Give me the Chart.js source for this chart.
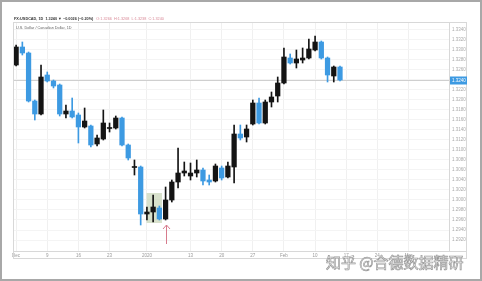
<!DOCTYPE html>
<html>
<head>
<meta charset="utf-8">
<script src="https://cdn.jsdelivr.net/npm/chart.js@4.4.0/dist/chart.umd.min.js"></script>
<style>
  html, body { margin: 0; padding: 0; background: #fff; }
  #wrap { position: relative; width: 482px; height: 281px; }
</style>
</head>
<body>
<div id="wrap"><canvas id="usdcad" width="482" height="281"></canvas></div>
<script>
// dias de trading (dic 2019 - feb 2020) + huecos a la derecha
const tradingDays = [
  'Dec 2','Dec 3','Dec 4','Dec 5','Dec 6','Dec 9','Dec 10','Dec 11','Dec 12','Dec 13',
  'Dec 16','Dec 17','Dec 18','Dec 19','Dec 20','Dec 23','Dec 24','Dec 26','Dec 27','Dec 30',
  'Dec 31','Jan 2','Jan 3','Jan 6','Jan 7','Jan 8','Jan 9','Jan 10','Jan 13','Jan 14',
  'Jan 15','Jan 16','Jan 17','Jan 20','Jan 21','Jan 22','Jan 23','Jan 24','Jan 27','Jan 28',
  'Jan 29','Jan 30','Jan 31','Feb 3','Feb 4','Feb 5','Feb 6','Feb 7','Feb 10','Feb 11',
  'Feb 12','Feb 13','Feb 14'
];
const emptySlots = 17;

const opens  = [1.3270,1.3306,1.3294,1.3198,1.3172,1.3250,1.3238,1.3230,1.3172,1.3178,
                1.3170,1.3146,1.3148,1.3112,1.3122,1.3143,1.3144,1.3164,1.3110,1.3065,
                1.3066,1.2972,1.2976,1.2984,1.2962,1.3000,1.3036,1.3054,1.3048,1.3054,
                1.3060,1.3040,1.3038,1.3064,1.3046,1.3066,1.3132,1.3126,1.3152,1.3194,
                1.3154,1.3196,1.3208,1.3234,1.3284,1.3274,1.3280,1.3284,1.3300,1.3316,
                1.3284,1.3248,1.3266];
const highs  = [1.3310,1.3316,1.3296,1.3200,1.3270,1.3256,1.3240,1.3232,1.3190,1.3204,
                1.3174,1.3184,1.3150,1.3130,1.3180,1.3154,1.3168,1.3166,1.3112,1.3080,
                1.3068,1.2986,1.3010,1.2988,1.3026,1.3040,1.3104,1.3076,1.3074,1.3080,
                1.3064,1.3050,1.3072,1.3068,1.3076,1.3150,1.3150,1.3150,1.3200,1.3204,
                1.3200,1.3216,1.3246,1.3304,1.3292,1.3300,1.3304,1.3322,1.3328,1.3318,
                1.3286,1.3268,1.3268];
const lows   = [1.3268,1.3290,1.3196,1.3160,1.3170,1.3236,1.3224,1.3168,1.3164,1.3164,
                1.3114,1.3144,1.3106,1.3108,1.3120,1.3136,1.3142,1.3108,1.3080,1.3050,
                1.2950,1.2960,1.2956,1.2960,1.2960,1.2996,1.3024,1.3048,1.3040,1.3046,
                1.3030,1.3030,1.3036,1.3040,1.3044,1.3034,1.3120,1.3116,1.3150,1.3152,
                1.3152,1.3186,1.3196,1.3232,1.3272,1.3264,1.3274,1.3282,1.3298,1.3282,
                1.3236,1.3236,1.3238];
const closes = [1.3306,1.3294,1.3198,1.3172,1.3246,1.3238,1.3228,1.3172,1.3178,1.3166,
                1.3146,1.3158,1.3110,1.3124,1.3154,1.3145,1.3164,1.3110,1.3084,1.3067,
                1.2972,1.2976,1.2986,1.2962,1.3000,1.3036,1.3054,1.3058,1.3054,1.3060,
                1.3038,1.3036,1.3068,1.3044,1.3068,1.3132,1.3124,1.3142,1.3194,1.3154,
                1.3196,1.3206,1.3234,1.3286,1.3274,1.3282,1.3284,1.3302,1.3316,1.3284,
                1.3250,1.3266,1.3240];

const priceTicks = [1.2920,1.2940,1.2960,1.2980,1.3000,1.3020,1.3040,1.3060,1.3080,1.3100,1.3120,
                    1.3140,1.3160,1.3180,1.3200,1.3220,1.3240,1.3260,1.3280,1.3300,1.3320,1.3340];
const timeTickIdx  = [0, 5, 10, 15, 21, 28, 33, 38, 43, 48, 53, 58, 63];
const timeTickText = ['Dec','9','16','23','2020','13','20','27','Feb','10','17','24','Mar'];

const headerMain = 'FX:USDCAD, 1D  1.3240 \u25BC \u22120.0026 (\u22120.20%)';
const headerOhlc = 'O:1.3266  H:1.3268  L:1.3238  C:1.3240';
const seriesName = 'U.S. Dollar / Canadian Dollar, 1D';
const watermark = '知乎 @合德数据精研';
const lastPrice = closes[closes.length - 1];
const markedBars = [21, 23]; // recuadro sombreado
const arrowBar = 24;

const UP = '#141414';
const DOWN = '#3d9ae2';

const categories = tradingDays.concat(new Array(emptySlots).fill(''));
const colors = opens.map((o, i) => closes[i] >= o ? UP : DOWN);
const tickMap = {};
timeTickIdx.forEach((idx, k) => { tickMap[idx] = timeTickText[k]; });

// dibuja marco, cabecera, linea de precio, recuadro y flecha
const decor = {
  id: 'decor',
  beforeDatasetsDraw(chart) {
    const { ctx, scales: { x, y }, chartArea: a } = chart;
    ctx.save();
    // recuadro
    let hi = -Infinity, lo = Infinity;
    for (let i = markedBars[0]; i <= markedBars[1]; i++) { hi = Math.max(hi, highs[i]); lo = Math.min(lo, lows[i]); }
    const bx0 = x.getPixelForValue(markedBars[0]) - 0.3;
    const bx1 = x.getPixelForValue(markedBars[1]) + 2.6;
    const by0 = y.getPixelForValue(hi) - 2;
    const by1 = y.getPixelForValue(lo) + 1;
    ctx.fillStyle = 'rgba(190,205,170,0.6)';
    ctx.fillRect(bx0, by0, bx1 - bx0, by1 - by0);
    // linea del ultimo precio
    const py = Math.round(y.getPixelForValue(lastPrice)) + 0.5;
    ctx.strokeStyle = '#cfcfcf';
    ctx.lineWidth = 1;
    ctx.beginPath(); ctx.moveTo(a.left, py); ctx.lineTo(a.right, py); ctx.stroke();
    ctx.restore();
  },
  afterDraw(chart) {
    const { ctx, scales: { x, y }, chartArea: a } = chart;
    ctx.save();
    // marco exterior
    ctx.strokeStyle = '#a8a8a8';
    ctx.lineWidth = 2;
    ctx.strokeRect(1, 1, 480, 279);
    // panel
    ctx.strokeStyle = '#d8d8d8';
    ctx.lineWidth = 1;
    ctx.strokeRect(13.5, 22.5, 453, 236);
    ctx.beginPath();
    ctx.moveTo(a.right + 0.5, 22); ctx.lineTo(a.right + 0.5, a.bottom);
    ctx.moveTo(13, a.bottom + 0.5); ctx.lineTo(466, a.bottom + 0.5);
    ctx.stroke();
    // etiqueta de precio
    const py = y.getPixelForValue(lastPrice);
    ctx.fillStyle = DOWN;
    ctx.fillRect(a.right + 1, py - 3.5, 17, 8);
    ctx.fillStyle = '#fff';
    ctx.font = '4.5px "Liberation Sans", Arial';
    ctx.textBaseline = 'middle';
    ctx.fillText(lastPrice.toFixed(4), a.right + 3, py + 0.5);
    // cabecera
    ctx.textBaseline = 'alphabetic';
    ctx.font = 'bold 3.8px "Liberation Sans", Arial';
    ctx.fillStyle = '#333';
    ctx.fillText(headerMain, 14, 20);
    const w = ctx.measureText(headerMain).width;
    ctx.font = '3.8px "Liberation Sans", Arial';
    ctx.fillStyle = '#d98a98';
    ctx.fillText(headerOhlc, 17 + w, 20);
    ctx.fillStyle = '#666';
    ctx.fillText(seriesName, 16, 29);
    // flecha
    const ax = Math.round(x.getPixelForValue(arrowBar)) + 0.5;
    const ay = y.getPixelForValue(lows[arrowBar]) + 5;
    ctx.strokeStyle = '#d77b8c';
    ctx.lineWidth = 1;
    ctx.beginPath();
    ctx.moveTo(ax, ay); ctx.lineTo(ax, ay + 19);
    ctx.moveTo(ax - 3.5, ay + 4); ctx.lineTo(ax, ay); ctx.lineTo(ax + 3.5, ay + 4);
    ctx.stroke();
    // marca de agua
    ctx.font = '15px "Noto Sans CJK SC"';
    ctx.textBaseline = 'alphabetic';
    ctx.fillStyle = 'rgba(255,255,255,0.9)';
    ctx.strokeStyle = 'rgba(135,135,135,0.85)';
    ctx.lineWidth = 0.7;
    ctx.fillText(watermark, 326, 268);
    ctx.strokeText(watermark, 326, 268);
    ctx.restore();
  }
};

new Chart(document.getElementById('usdcad').getContext('2d'), {
  type: 'bar',
  data: {
    labels: categories,
    datasets: [
      {
        label: 'body',
        data: opens.map((o, i) => [o, closes[i]]),
        backgroundColor: colors,
        barThickness: 4.6,
        grouped: false,
        order: 1
      },
      {
        label: 'wick',
        data: lows.map((l, i) => [l, highs[i]]),
        backgroundColor: colors,
        barThickness: 1,
        grouped: false,
        order: 2
      }
    ]
  },
  options: {
    responsive: false,
    animation: false,
    devicePixelRatio: 1,
    layout: { padding: { left: 13, top: 22, right: 15, bottom: 22 } },
    plugins: { legend: { display: false }, tooltip: { enabled: false } },
    scales: {
      x: {
        type: 'category',
        offset: true,
        border: { display: false },
        grid: {
          offset: false,
          drawTicks: false,
          color: c => (c.index in tickMap) ? '#f0f0f0' : 'rgba(0,0,0,0)'
        },
        ticks: {
          autoSkip: false,
          maxRotation: 0,
          padding: 2,
          color: '#999',
          font: { size: 4.5, family: '"Liberation Sans", Arial' },
          callback: (val, idx) => tickMap[idx] || ''
        },
        afterFit: s => { s.height = 8; }
      },
      y: {
        position: 'right',
        min: 1.2898,
        max: 1.3356,
        border: { display: false },
        grid: { drawTicks: false, color: '#f4f4f4' },
        afterBuildTicks: s => { s.ticks = priceTicks.map(v => ({ value: v })); },
        ticks: {
          padding: 3,
          color: '#aaa',
          font: { size: 4.5, family: '"Liberation Sans", Arial' },
          callback: v => v.toFixed(4)
        },
        afterFit: s => { s.width = 18; }
      }
    }
  },
  plugins: [decor]
});
</script>
</body>
</html>
